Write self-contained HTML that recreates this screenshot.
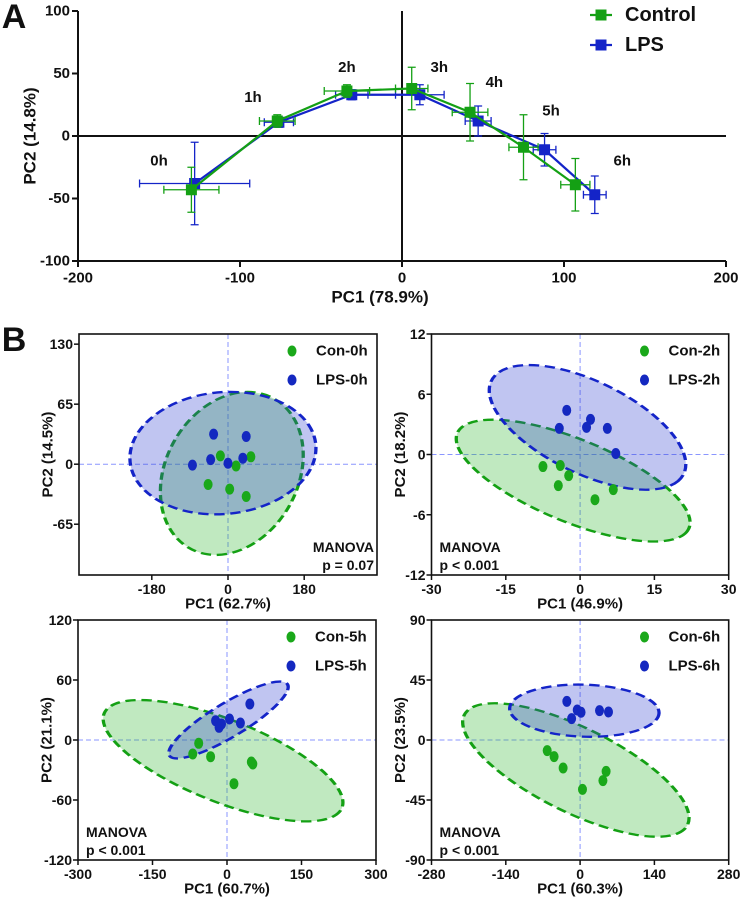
<!DOCTYPE html>
<html><head><meta charset="utf-8"><style>
html,body{margin:0;padding:0;background:#fff;}
svg{display:block;font-family:"Liberation Sans",Arial,sans-serif;font-weight:bold;}
</style></head><body>
<svg id="fig" width="742" height="899" viewBox="0 0 742 899" xmlns="http://www.w3.org/2000/svg"></svg>
<script>
// ---------- Panel A data ----------
const timeLabels = ['0h','1h','2h','3h','4h','5h','6h'];
const conX = [-130,-77,-34,6,42,75,107];
const conY = [-43,12,36,38,19,-9,-39];
const lpsX = [-128,-76,-31,11,47,88,119];
const lpsY = [-38,11,33,33,12,-11,-47];
const conXErr = [17,11,14,10,11,9,9];
const conYErr = [18,5,5,17,23,26,21];
const lpsXErr = [34,9,10,15,8,7,7];
const lpsYErr = [33,4,4,8,12,13,15];
const labelX = [-150,-92,-34,23,57,92,136];
const labelY = [-20,31,55,55,43,20,-20];
const aXTicks = [-200,-100,0,100,200];
const aYTicks = [-100,-50,0,50,100];

// ---------- Panel B data ----------
const b0ConX = [-18,54,19,-47,4,43];
const b0ConY = [9,8,-2,-22,-27,-35];
const b0LpsX = [-34,43,-84,-41,0,35];
const b0LpsY = [32.5,30,-1,5,1,6.5];
const b2ConX = [-7.5,-4,-2.3,-4.4,6.7,3];
const b2ConY = [-1.2,-1.1,-2.1,-3.1,-3.5,-4.5];
const b2LpsX = [-2.7,-4.2,2.1,1.3,5.5,7.2];
const b2LpsY = [4.4,2.6,3.5,2.7,2.6,0.1];
const b5ConX = [-57,-69,-33,49,52,14];
const b5ConY = [-3.3,-14,-16.7,-22,-24,-43.7];
const b5LpsX = [46,-23,5,27,-16,-11];
const b5LpsY = [36,19.3,21,17,12.7,16];
const b6ConX = [-62,-49,-32,49,43,4.5];
const b6ConY = [-8,-12.5,-21,-23.5,-30.5,-37];
const b6LpsX = [-25,-5.4,1.8,-16,36.6,53.5];
const b6LpsY = [29,22.5,20.8,16,22,21];
// ellipse centres (data units) per panel: [con, lps]
const ellCenterX = [[9,-12],[-1.4,1.5],[-8,3],[-8,8]];
const ellCenterY = [[-10,12],[-2.6,2.7],[-20.7,20],[-22.5,22]];

const NS='http://www.w3.org/2000/svg';
const svg=document.getElementById('fig');
const GREEN='#14a014', BLUE='#1424c8';
function mk(tag,attrs,parent,name,inter){
  const e=document.createElementNS(NS,tag);
  for(const k in attrs) e.setAttribute(k,attrs[k]);
  
  
  (parent||svg).appendChild(e); return e;
}
function txt(x,y,s,size,anchor,name,parent,extra){
  const t=mk('text',Object.assign({x:x,y:y,'font-size':size,'text-anchor':anchor||'middle','dominant-baseline':'central',fill:'#111'},extra||{}),parent,name,false);
  t.textContent=s; return t;
}

// ================= PANEL A =================
(function(){
  const g=mk('g',{},svg,'panel-a',false);
  const L=78,R=726,T=11,B=261;
  const sx=v=>L+(v+200)/400*(R-L);
  const sy=v=>B-(v+100)/200*(B-T);
  txt(14,17,'A',34,'middle','panel-label-a',g);
  // axes
  mk('line',{x1:L,y1:T,x2:L,y2:B,stroke:'#111','stroke-width':2},g,'y-axis',false);
  mk('line',{x1:L,y1:B,x2:R,y2:B,stroke:'#111','stroke-width':2},g,'x-axis',false);
  mk('line',{x1:sx(0),y1:T,x2:sx(0),y2:B,stroke:'#111','stroke-width':2},g,'zero-line-vertical',false);
  mk('line',{x1:L,y1:sy(0),x2:R,y2:sy(0),stroke:'#111','stroke-width':2},g,'zero-line-horizontal',false);
  aYTicks.forEach(v=>{
    mk('line',{x1:L-6,y1:sy(v),x2:L,y2:sy(v),stroke:'#111','stroke-width':2},g,'y-tick',false);
    txt(L-8,sy(v),String(v),15,'end','y-tick-label',g);
  });
  aXTicks.forEach(v=>{
    mk('line',{x1:sx(v),y1:B,x2:sx(v),y2:B+6,stroke:'#111','stroke-width':2},g,'x-tick',false);
    txt(sx(v),B+17,String(v),15,'middle','x-tick-label',g);
  });
  txt(380,297,'PC1 (78.9%)',17,'middle','x-axis-title',g);
  const yt=txt(0,0,'PC2 (14.8%)',17,'middle','y-axis-title',g);
  yt.setAttribute('transform','translate(30,136) rotate(-90)');
  function series(xs,ys,xe,ye,col,name){
    const sg=mk('g',{},g,name,false);
    xs.forEach((x,i)=>{
      const cx=sx(x),cy=sy(ys[i]);
      const x1=sx(x-xe[i]),x2=sx(x+xe[i]),y1=sy(ys[i]+ye[i]),y2=sy(ys[i]-ye[i]);
      mk('path',{d:`M${x1},${cy}H${x2}M${x1},${cy-4}V${cy+4}M${x2},${cy-4}V${cy+4}M${cx},${y1}V${y2}M${cx-4},${y1}H${cx+4}M${cx-4},${y2}H${cx+4}`,stroke:col,'stroke-width':1.3,fill:'none'},sg,'error-bar',false);
    });
    mk('polyline',{points:xs.map((x,i)=>sx(x)+','+sy(ys[i])).join(' '),fill:'none',stroke:col,'stroke-width':2.2},sg,'series-line',false);
    xs.forEach((x,i)=>{
      mk('rect',{x:sx(x)-5.5,y:sy(ys[i])-5.5,width:11,height:11,fill:col},sg,'marker-'+timeLabels[i],false);
    });
  }
  series(lpsX,lpsY,lpsXErr,lpsYErr,BLUE,'lps-series');
  series(conX,conY,conXErr,conYErr,GREEN,'control-series');
  timeLabels.forEach((s,i)=>txt(sx(labelX[i]),sy(labelY[i]),s,15,'middle','time-label-'+s,g));
  // legend
  const lg=mk('g',{},g,'legend',false);
  [['Control',GREEN,15],['LPS',BLUE,45]].forEach(([s,c,y])=>{
    mk('line',{x1:590,y1:y,x2:612,y2:y,stroke:c,'stroke-width':2.2},lg,'legend-line',false);
    mk('rect',{x:595.5,y:y-5.5,width:11,height:11,fill:c},lg,'legend-marker',false);
    txt(625,y,s,20,'start','legend-entry-'+s.toLowerCase(),lg);
  });
})();

// ================= PANEL B =================
txt(14,340,'B',34,'middle','panel-label-b');
function bPanel(o){
  const g=mk('g',{},svg,o.name,false);
  const {L,R,T,B,xmin,xmax,ymin,ymax}=o;
  const sx=v=>L+(v-xmin)/(xmax-xmin)*(R-L);
  const sy=v=>B-(v-ymin)/(ymax-ymin)*(B-T);
  mk('line',{x1:sx(0),y1:T,x2:sx(0),y2:B,stroke:'#8a96ff','stroke-width':1,'stroke-dasharray':'5,3'},g,'zero-line-vertical',false);
  mk('line',{x1:L,y1:sy(0),x2:R,y2:sy(0),stroke:'#8a96ff','stroke-width':1,'stroke-dasharray':'5,3'},g,'zero-line-horizontal',false);
  // ellipses (radii/angle in reference zoom frame, scaled back to pixels)
  const ells=[[o.ce,'#2fb52f',GREEN,'ellipse-control'],[o.le,'#3040d0',BLUE,'ellipse-lps']];
  ells.forEach(([p,fc,sc,nm],k)=>{
    const cx=sx(ellCenterX[o.idx][k]), cy=sy(ellCenterY[o.idx][k]);
    mk('ellipse',{cx:0,cy:0,rx:p[0],ry:p[1],fill:fc,'fill-opacity':0.3,stroke:sc,'stroke-width':7,'stroke-dasharray':'22,12',
      transform:`translate(${cx},${cy}) scale(0.4732,0.3333) rotate(${p[2]})`},g,nm,false);
  });
  o.cx.forEach((x,i)=>mk('ellipse',{cx:sx(x),cy:sy(o.cy[i]),rx:4.5,ry:5.5,fill:'#1aa81a'},g,'point-control',false));
  o.lx.forEach((x,i)=>mk('ellipse',{cx:sx(x),cy:sy(o.ly[i]),rx:4.5,ry:5.5,fill:'#1428c0'},g,'point-lps',false));
  mk('rect',{x:L,y:T,width:R-L,height:B-T,fill:'none',stroke:'#111','stroke-width':1.6},g,'plot-frame',false);
  o.yt.forEach(v=>{
    mk('line',{x1:L-5,y1:sy(v),x2:L,y2:sy(v),stroke:'#111','stroke-width':1.5},g,'y-tick',false);
    txt(L-6,sy(v),String(v),14,'end','y-tick-label',g);
  });
  o.xt.forEach(v=>{
    mk('line',{x1:sx(v),y1:B,x2:sx(v),y2:B+5,stroke:'#111','stroke-width':1.5},g,'x-tick',false);
    txt(sx(v),B+14,String(v),14,'middle','x-tick-label',g);
  });
  txt((L+R)/2-(R-L)*0.0,B+29,o.xTitle,15,'middle','x-axis-title',g);
  const yt=txt(0,0,o.yTitle,15,'middle','y-axis-title',g);
  yt.setAttribute('transform',`translate(${L-31},${(T+B)/2}) rotate(-90)`);
  // legend
  mk('ellipse',{cx:L+213,cy:T+17,rx:4.5,ry:5.5,fill:'#1aa81a'},g,'legend-marker-control',false);
  txt(L+237,T+17,o.leg[0],15,'start','legend-entry-control',g);
  mk('ellipse',{cx:L+213,cy:T+46,rx:4.5,ry:5.5,fill:'#1428c0'},g,'legend-marker-lps',false);
  txt(L+237,T+46,o.leg[1],15,'start','legend-entry-lps',g);
  // manova
  const anc=o.mRight?'end':'start', mx=o.mRight?R-3:L+8;
  txt(mx,B-28,'MANOVA',14,anc,'manova-label',g);
  txt(mx,B-10,o.p,14,anc,'manova-p-value',g);
}
bPanel({name:'panel-b-0h',idx:0,L:79,R:377,T:334,B:575,xmin:-352,xmax:352,ymin:-120,ymax:141,
  yt:[130,65,0,-65],xt:[-180,0,180],xTitle:'PC1 (62.7%)',yTitle:'PC2 (14.5%)',leg:['Con-0h','LPS-0h'],p:'p = 0.07',mRight:true,
  cx:b0ConX,cy:b0ConY,lx:b0LpsX,ly:b0LpsY,ce:[145,248,12],le:[200,180,-25]});
bPanel({name:'panel-b-2h',idx:1,L:431.5,R:728.7,T:334,B:575,xmin:-30,xmax:30,ymin:-12,ymax:12,
  yt:[12,6,0,-6,-12],xt:[-30,-15,0,15,30],xTitle:'PC1 (46.9%)',yTitle:'PC2 (18.2%)',leg:['Con-2h','LPS-2h'],p:'p < 0.001',mRight:false,
  cx:b2ConX,cy:b2ConY,lx:b2LpsX,ly:b2LpsY,ce:[285,115,33],le:[250,125,40]});
bPanel({name:'panel-b-5h',idx:2,L:78,R:376,T:620,B:860,xmin:-300,xmax:300,ymin:-120,ymax:120,
  yt:[120,60,0,-60,-120],xt:[-300,-150,0,150,300],xTitle:'PC1 (60.7%)',yTitle:'PC2 (21.1%)',leg:['Con-5h','LPS-5h'],p:'p < 0.001',mRight:false,
  cx:b5ConX,cy:b5ConY,lx:b5LpsX,ly:b5LpsY,ce:[290,115,32],le:[165,45,-42]});
bPanel({name:'panel-b-6h',idx:3,L:431.5,R:728.7,T:620,B:860,xmin:-280,xmax:280,ymin:-90,ymax:90,
  yt:[90,45,0,-45,-90],xt:[-280,-140,0,140,280],xTitle:'PC1 (60.3%)',yTitle:'PC2 (23.5%)',leg:['Con-6h','LPS-6h'],p:'p < 0.001',mRight:false,
  cx:b6ConX,cy:b6ConY,lx:b6LpsX,ly:b6LpsY,ce:[290,115,38],le:[158,78,3]});
</script>
</body></html>
